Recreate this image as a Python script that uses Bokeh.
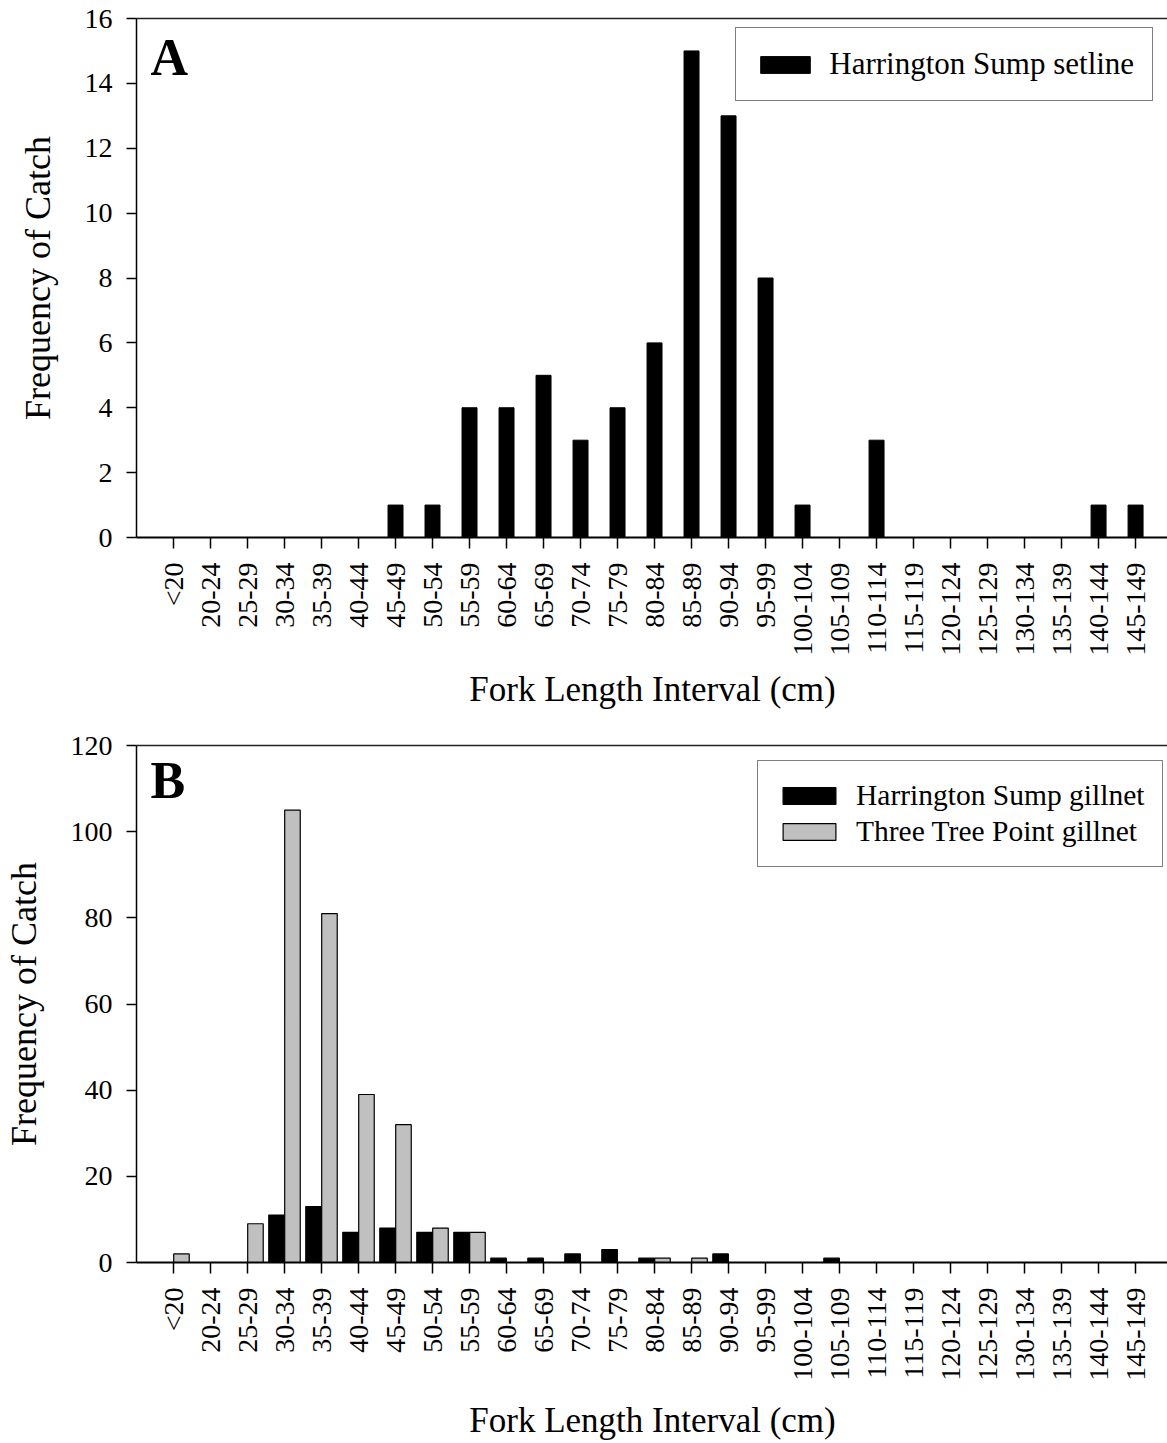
import math
from bokeh.plotting import figure
from bokeh.models import (Range1d, FixedTicker, LinearAxis, Legend, LegendItem,
                          Label, ColumnDataSource)
from bokeh.layouts import column
from bokeh.embed import file_html
from bokeh.resources import INLINE

# ---------------- data ----------------
categories = ["<20", "20-24", "25-29", "30-34", "35-39", "40-44", "45-49", "50-54",
              "55-59", "60-64", "65-69", "70-74", "75-79", "80-84", "85-89", "90-94",
              "95-99", "100-104", "105-109", "110-114", "115-119", "120-124",
              "125-129", "130-134", "135-139", "140-144", "145-149"]
setline_harrington = [0, 0, 0, 0, 0, 0, 1, 1, 4, 4, 5, 3, 4, 6, 15, 13, 8, 1, 0, 3,
                      0, 0, 0, 0, 0, 1, 1]
gillnet_harrington = [0, 0, 0, 11, 13, 7, 8, 7, 7, 1, 1, 2, 3, 1, 0, 2, 0, 0, 1, 0,
                      0, 0, 0, 0, 0, 0, 0]
gillnet_threetree = [2, 0, 9, 105, 81, 39, 32, 8, 7, 0, 0, 0, 0, 1, 1, 0, 0, 0, 0, 0,
                     0, 0, 0, 0, 0, 0, 0]
yticks_a = [0, 2, 4, 6, 8, 10, 12, 14, 16]
yticks_b = [0, 20, 40, 60, 80, 100, 120]

FONT = "Liberation Serif"
idx = list(range(len(categories)))
overrides = {i: c for i, c in enumerate(categories)}


def make_fig(ymax, yticks, b_top, b_bottom, frame_h, xlabel_standoff, ylabel_standoff):
    p = figure(frame_width=1032, frame_height=frame_h,
               x_range=Range1d(-1, 26.89), y_range=Range1d(0, ymax),
               min_border_left=135, min_border_right=0,
               min_border_top=b_top, min_border_bottom=b_bottom,
               output_backend="svg", toolbar_location=None)
    p.outline_line_color = None
    p.grid.visible = False
    p.background_fill_color = "white"
    p.border_fill_color = "white"

    # y axis
    ya = p.yaxis[0]
    ya.ticker = FixedTicker(ticks=yticks)
    ya.major_tick_out = 10
    ya.major_tick_in = 0
    ya.minor_tick_line_color = None
    ya.axis_line_width = 1.5
    ya.major_tick_line_width = 1.5
    ya.major_label_text_font = FONT
    ya.major_label_text_font_size = "28px"
    ya.major_label_text_color = "black"
    ya.major_label_standoff = 14
    ya.axis_label = "Frequency of Catch"
    ya.axis_label_text_font = FONT
    ya.axis_label_text_font_size = "36px"
    ya.axis_label_text_font_style = "normal"
    ya.axis_label_text_color = "black"
    ya.axis_label_standoff = ylabel_standoff

    # x axis
    xa = p.xaxis[0]
    xa.ticker = FixedTicker(ticks=idx)
    xa.major_label_overrides = overrides
    xa.major_label_orientation = math.pi / 2
    xa.major_tick_out = 11
    xa.major_tick_in = 0
    xa.minor_tick_line_color = None
    xa.axis_line_width = 2
    xa.major_tick_line_width = 1.5
    xa.major_label_text_font = FONT
    xa.major_label_text_font_size = "28px"
    xa.major_label_text_color = "black"
    xa.major_label_standoff = 14
    xa.axis_label = "Fork Length Interval (cm)"
    xa.axis_label_text_font = FONT
    xa.axis_label_text_font_size = "35px"
    xa.axis_label_text_font_style = "normal"
    xa.axis_label_text_color = "black"
    xa.axis_label_standoff = xlabel_standoff

    # top frame line
    top = LinearAxis(ticker=FixedTicker(ticks=[]), major_tick_line_color=None,
                     minor_tick_line_color=None, major_label_text_font_size="0px",
                     axis_line_color="#222222", axis_line_width=1.5,
                     major_label_standoff=0)
    p.add_layout(top, "above")
    return p


# ---------------- panel A ----------------
pa = make_fig(16, yticks_a, 18, 178, 519, 11, 24)
src_a = ColumnDataSource(dict(x=idx, top=setline_harrington))
ra = pa.vbar(x="x", top="top", width=0.405, source=src_a,
             fill_color="black", line_color="black", line_width=1)
leg_a = Legend(items=[LegendItem(label="Harrington Sump setline", renderers=[ra])],
               location=(609, 436), orientation="vertical",
               label_text_font=FONT, label_text_font_size="31px",
               label_text_color="black",
               glyph_width=62, glyph_height=21, label_standoff=13,
               padding=18, spacing=4, margin=0,
               border_line_color="black", border_line_width=1,
               background_fill_color="white", background_fill_alpha=1)
pa.add_layout(leg_a)
pa.add_layout(Label(x=-0.62, y=14.8, text="A", text_font=FONT,
                    text_font_style="bold", text_font_size="52px",
                    text_baseline="alphabetic", text_color="black"))

# ---------------- panel B ----------------
pb = make_fig(120, yticks_b, 30, 181, 517, 17, 24)
src_b = ColumnDataSource(dict(
    xh=[i - 0.215 for i in idx], xt=[i + 0.215 for i in idx],
    hs=gillnet_harrington, tt=gillnet_threetree))
rb1 = pb.vbar(x="xh", top="hs", width=0.42, source=src_b,
              fill_color="black", line_color="black", line_width=1.2)
rb2 = pb.vbar(x="xt", top="tt", width=0.42, source=src_b,
              fill_color="#c0c0c0", line_color="black", line_width=1.2)
leg_b = Legend(items=[LegendItem(label="Harrington Sump gillnet", renderers=[rb1]),
                      LegendItem(label="Three Tree Point gillnet", renderers=[rb2])],
               location=(621, 395), orientation="vertical",
               label_text_font=FONT, label_text_font_size="29.5px",
               label_text_color="black",
               glyph_width=66, glyph_height=21, label_standoff=14,
               padding=18, spacing=3, margin=0,
               border_line_color="black", border_line_width=1,
               background_fill_color="white", background_fill_alpha=1)
pb.add_layout(leg_b)
pb.add_layout(Label(x=-0.62, y=111.9, text="B", text_font=FONT,
                    text_font_style="bold", text_font_size="52px",
                    text_baseline="alphabetic", text_color="black"))

layout = column(pa, pb, spacing=0)
open("out.html", "w").write(file_html(layout, INLINE))
